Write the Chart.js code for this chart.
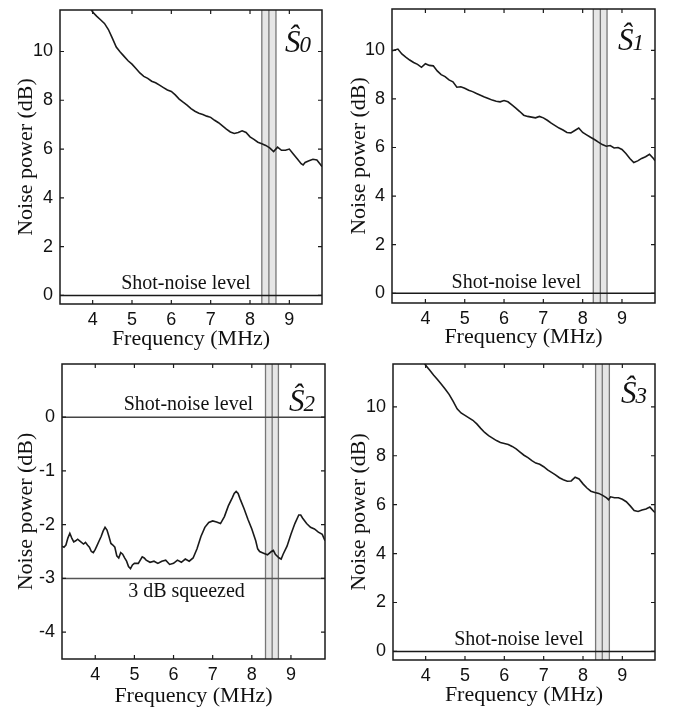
<!DOCTYPE html>
<html lang="en">
<head>
  <meta charset="UTF-8" />
  <title>Stokes operator noise spectra</title>
  <script src="https://cdn.jsdelivr.net/npm/chart.js@4.4.1/dist/chart.umd.min.js"></script>
  <style>
    body { margin: 0; background: #fff; }
    #wrap { position: relative; width: 673px; height: 707px; }
    canvas { position: absolute; }
  </style>
</head>
<body>
  <div id="wrap">
    <canvas id="s0" width="336" height="354" style="left:0;top:0"></canvas>
    <canvas id="s1" width="337" height="353" style="left:336px;top:0"></canvas>
    <canvas id="s2" width="336" height="351" style="left:0;top:356px"></canvas>
    <canvas id="s3" width="337" height="351" style="left:336px;top:356px"></canvas>
  </div>

  <script>
    // --- data ---
    const freqS0 = [3.95, 4.0, 4.1, 4.2, 4.3, 4.4, 4.5, 4.6, 4.7, 4.8, 4.9, 5.0, 5.1, 5.2, 5.3, 5.4, 5.5, 5.6, 5.7, 5.8,
      5.9, 6.0, 6.1, 6.2, 6.3, 6.4, 6.5, 6.6, 6.7, 6.8, 6.9, 7.0, 7.1, 7.2, 7.3, 7.4, 7.5, 7.6, 7.7, 7.8,
      7.9, 8.0, 8.1, 8.2, 8.3, 8.4, 8.5, 8.6, 8.7, 8.8, 8.9, 9.0, 9.1, 9.2, 9.3, 9.35, 9.4, 9.5, 9.6, 9.7, 9.8, 9.83];
    const powerS0 = [11.75, 11.62, 11.45, 11.3, 11.15, 10.9, 10.55, 10.18, 9.98, 9.8, 9.62, 9.48, 9.3, 9.12, 8.98, 8.9, 8.78, 8.72, 8.62, 8.52,
      8.42, 8.36, 8.22, 8.05, 7.92, 7.8, 7.66, 7.55, 7.47, 7.42, 7.35, 7.3, 7.18, 7.08, 6.95, 6.82, 6.7, 6.64, 6.68, 6.75,
      6.68, 6.5, 6.4, 6.28, 6.22, 6.15, 6.05, 5.9, 6.08, 5.95, 5.95, 6.0, 5.8, 5.6, 5.4, 5.35, 5.45, 5.52, 5.58, 5.55, 5.35, 5.28];

    const freqS1 = [3.15, 3.2, 3.3, 3.4, 3.5, 3.6, 3.7, 3.8, 3.9, 4.0,
      4.1, 4.2, 4.3, 4.4, 4.5, 4.6, 4.7, 4.8, 4.9, 5.0,
      5.1, 5.2, 5.3, 5.4, 5.5, 5.6, 5.7, 5.8, 5.9, 6.0,
      6.1, 6.2, 6.3, 6.4, 6.5, 6.6, 6.7, 6.8, 6.9, 7.0,
      7.1, 7.2, 7.3, 7.4, 7.5, 7.6, 7.7, 7.8, 7.9, 8.0,
      8.1, 8.2, 8.3, 8.4, 8.5, 8.6, 8.7, 8.8, 8.9, 9.0,
      9.1, 9.2, 9.3, 9.4, 9.5, 9.6, 9.7, 9.8, 9.84];
    const powerS1 = [9.98, 10.0, 10.05, 9.85, 9.72, 9.6, 9.5, 9.42, 9.3, 9.45,
      9.38, 9.36, 9.15, 9.0, 8.92, 8.78, 8.7, 8.48, 8.5, 8.44,
      8.36, 8.3, 8.22, 8.15, 8.08, 8.02, 7.95, 7.9, 7.88, 7.93,
      7.88, 7.75, 7.62, 7.48, 7.33, 7.28, 7.25, 7.22, 7.28, 7.22,
      7.12, 7.0, 6.9, 6.8, 6.72, 6.62, 6.6, 6.7, 6.8, 6.62,
      6.52, 6.42, 6.33, 6.22, 6.12, 6.05, 6.08, 5.98, 6.0, 5.92,
      5.75, 5.55, 5.38, 5.45, 5.55, 5.62, 5.72, 5.55, 5.45];

    const freqS2 = [3.15, 3.2, 3.25, 3.3, 3.35, 3.4, 3.45, 3.5, 3.55, 3.6,
      3.7, 3.75, 3.8, 3.85, 3.9, 3.95, 4.0, 4.05, 4.1, 4.15,
      4.2, 4.25, 4.3, 4.35, 4.4, 4.45, 4.5, 4.55, 4.6, 4.65,
      4.7, 4.75, 4.8, 4.85, 4.9, 4.95, 5.0, 5.1, 5.2, 5.25,
      5.3, 5.4, 5.5, 5.6, 5.7, 5.8, 5.9, 6.0, 6.1, 6.2,
      6.3, 6.4, 6.5, 6.6, 6.7, 6.8, 6.9, 7.0, 7.1, 7.2,
      7.3, 7.4, 7.5, 7.55, 7.6, 7.65, 7.7, 7.8, 7.9, 8.0,
      8.1, 8.15, 8.2, 8.3, 8.4, 8.5, 8.55, 8.6, 8.7, 8.75,
      8.8, 8.9, 9.0, 9.1, 9.2, 9.25, 9.3, 9.4, 9.5, 9.6,
      9.7, 9.8, 9.87];
    const powerS2 = [-2.40, -2.42, -2.38, -2.25, -2.16, -2.25, -2.32, -2.30, -2.27, -2.30,
      -2.36, -2.33, -2.38, -2.42, -2.50, -2.52, -2.46, -2.38, -2.30, -2.22,
      -2.12, -2.05, -2.10, -2.22, -2.35, -2.38, -2.42, -2.58, -2.62, -2.52,
      -2.55, -2.62, -2.68, -2.78, -2.82, -2.75, -2.72, -2.72, -2.60, -2.62,
      -2.66, -2.70, -2.68, -2.72, -2.68, -2.66, -2.74, -2.72, -2.66, -2.70,
      -2.64, -2.68, -2.62, -2.45, -2.22, -2.05, -1.96, -1.93, -1.95, -1.98,
      -1.85, -1.65, -1.50, -1.42, -1.38, -1.42, -1.52, -1.70, -1.90, -2.08,
      -2.30, -2.45, -2.50, -2.53, -2.56, -2.50, -2.48, -2.55, -2.62, -2.64,
      -2.55, -2.40, -2.18, -1.98, -1.82, -1.82, -1.88, -1.98, -2.05, -2.08,
      -2.14, -2.18, -2.30];

    const freqS3 = [3.97, 4.0, 4.1, 4.2, 4.3, 4.4, 4.5, 4.6, 4.7, 4.8,
      4.9, 5.0, 5.1, 5.2, 5.3, 5.4, 5.5, 5.6, 5.7, 5.8,
      5.9, 6.0, 6.1, 6.2, 6.3, 6.4, 6.5, 6.6, 6.7, 6.8,
      6.9, 7.0, 7.1, 7.2, 7.3, 7.4, 7.5, 7.6, 7.7, 7.8,
      7.9, 8.0, 8.1, 8.2, 8.3, 8.4, 8.5, 8.6, 8.65, 8.7,
      8.8, 8.9, 9.0, 9.1, 9.2, 9.3, 9.4, 9.5, 9.6, 9.7,
      9.8, 9.83];
    const powerS3 = [11.78, 11.7, 11.5, 11.3, 11.12, 10.92, 10.72, 10.5, 10.22, 9.92,
      9.75, 9.65, 9.55, 9.45, 9.3, 9.12, 8.95, 8.82, 8.72, 8.62,
      8.54, 8.5, 8.46, 8.38, 8.28, 8.15, 8.02, 7.92, 7.8, 7.7,
      7.65, 7.55, 7.42, 7.32, 7.22, 7.1, 7.02, 6.96, 6.97, 7.12,
      7.05, 6.85, 6.68, 6.55, 6.5, 6.46, 6.38, 6.28, 6.2, 6.32,
      6.28, 6.28, 6.22, 6.12, 5.95, 5.76, 5.72, 5.78, 5.82, 5.9,
      5.72, 5.68];

    // detection band edges + centre (MHz)
    const bandS0 = [8.30, 8.48, 8.66];
    const bandS1 = [8.27, 8.45, 8.62];
    const bandS2 = [8.35, 8.52, 8.68];
    const bandS3 = [8.32, 8.49, 8.67];

    const xTicks = [4, 5, 6, 7, 8, 9];
    const yTicksHigh = [0, 2, 4, 6, 8, 10];
    const yTicksS2 = [-4, -3, -2, -1, 0];

    const shotNoise = 0;
    const squeezed3dB = -3;

    const serif = '"Liberation Serif", "Times New Roman", serif';
    const sans = '"Liberation Sans", Arial, sans-serif';
    const ink = '#1a1a1a';

    // band, annotations, S-hat tag, boxed frame with inward ticks
    const decor = {
      id: 'decor',
      beforeDatasetsDraw(chart, args, o) {
        const { ctx, chartArea: a, scales: { x } } = chart;
        const p = o.band.map(v => x.getPixelForValue(v));
        ctx.save();
        ctx.fillStyle = '#e6e6e6';
        ctx.fillRect(p[0], a.top, p[p.length - 1] - p[0], a.bottom - a.top);
        ctx.strokeStyle = '#777';
        ctx.lineWidth = 1.3;
        p.forEach(px => {
          ctx.beginPath();
          ctx.moveTo(px, a.top);
          ctx.lineTo(px, a.bottom);
          ctx.stroke();
        });
        ctx.restore();
      },
      afterDraw(chart, args, o) {
        const { ctx, chartArea: a, scales: { x, y } } = chart;
        ctx.save();
        ctx.fillStyle = '#111';
        ctx.font = '20px ' + serif;
        ctx.textAlign = 'center';
        ctx.textBaseline = 'middle';
        o.notes.forEach(n => ctx.fillText(n.text, x.getPixelForValue(n.x), y.getPixelForValue(n.y)));

        ctx.textAlign = 'left';
        ctx.textBaseline = 'alphabetic';
        ctx.font = 'italic 31px ' + serif;
        const sx = a.right + o.tag.dx, sy = a.top + o.tag.dy;
        ctx.fillText('\u015C', sx, sy);
        const w = ctx.measureText('\u015C').width;
        ctx.font = 'italic 23px ' + serif;
        ctx.fillText(o.tag.sub, sx + w - 1, sy);

        ctx.strokeStyle = ink;
        ctx.lineWidth = 1.5;
        ctx.strokeRect(a.left, a.top, a.right - a.left, a.bottom - a.top);
        ctx.lineWidth = 1.2;
        ctx.beginPath();
        x.ticks.forEach(t => {
          const px = x.getPixelForValue(t.value);
          ctx.moveTo(px, a.bottom); ctx.lineTo(px, a.bottom - 4);
          ctx.moveTo(px, a.top); ctx.lineTo(px, a.top + 4);
        });
        y.ticks.forEach(t => {
          const py = y.getPixelForValue(t.value);
          ctx.moveTo(a.left, py); ctx.lineTo(a.left + 4, py);
          ctx.moveTo(a.right, py); ctx.lineTo(a.right - 4, py);
        });
        ctx.stroke();
        ctx.restore();
      }
    };

    function panel(id, freq, power, c) {
      const curve = freq.map((f, i) => ({ x: f, y: power[i] }));
      const refs = c.refs.map(r => ({
        data: [{ x: c.xMin, y: r.y }, { x: c.xMax, y: r.y }],
        borderColor: r.color, borderWidth: 1.5, pointRadius: 0
      }));
      new Chart(document.getElementById(id), {
        type: 'line',
        data: {
          datasets: [{ data: curve, borderColor: ink, borderWidth: 1.6, pointRadius: 0, tension: 0 }, ...refs]
        },
        options: {
          responsive: false,
          animation: false,
          devicePixelRatio: 1,
          layout: { padding: c.pad },
          plugins: {
            legend: { display: false },
            tooltip: { enabled: false },
            decor: { band: c.band, notes: c.notes, tag: c.tag }
          },
          scales: {
            x: {
              type: 'linear', min: c.xMin, max: c.xMax,
              afterBuildTicks: s => { s.ticks = xTicks.map(v => ({ value: v })); },
              afterFit: s => { s.height = c.xHeight; s.paddingLeft = 0; s.paddingRight = 0; },
              grid: { display: false, drawTicks: false },
              border: { display: false },
              ticks: { font: { family: sans, size: 18 }, color: '#111', padding: 5 },
              title: { display: true, text: 'Frequency (MHz)', color: '#111',
                font: { family: serif, size: 22, lineHeight: 1 }, padding: { top: 0, bottom: c.xTitlePad } }
            },
            y: {
              min: c.yMin, max: c.yMax,
              afterBuildTicks: s => { s.ticks = c.yTicks.map(v => ({ value: v })); },
              afterFit: s => { s.width = c.yWidth; s.paddingTop = 0; s.paddingBottom = 0; },
              grid: { display: false, drawTicks: false },
              border: { display: false },
              ticks: { font: { family: sans, size: 18 }, color: '#111', padding: 7 },
              title: { display: true, text: 'Noise power (dB)', color: '#111',
                font: { family: serif, size: 22, lineHeight: 1 }, padding: { top: c.yTitlePad, bottom: 0 } }
            }
          }
        },
        plugins: [decor]
      });
    }

    const blackZero = [{ y: shotNoise, color: ink }];

    panel('s0', freqS0, powerS0, {
      xMin: 3.17, xMax: 9.83, yMin: -0.35, yMax: 11.7, yTicks: yTicksHigh, band: bandS0,
      refs: blackZero, pad: { left: 0, top: 10, right: 14, bottom: 0 }, yWidth: 60, xHeight: 50,
      xTitlePad: 4, yTitlePad: 15,
      notes: [{ text: 'Shot-noise level', x: 6.37, y: 0.47 }],
      tag: { sub: '0', dx: -37, dy: 42 }
    });

    panel('s1', freqS1, powerS1, {
      xMin: 3.15, xMax: 9.84, yMin: -0.4, yMax: 11.7, yTicks: yTicksHigh, band: bandS1,
      refs: blackZero, pad: { left: 0, top: 9, right: 18, bottom: 0 }, yWidth: 56, xHeight: 50,
      xTitlePad: 5, yTitlePad: 12.7,
      notes: [{ text: 'Shot-noise level', x: 6.31, y: 0.42 }],
      tag: { sub: '1', dx: -37, dy: 41 }
    });

    panel('s2', freqS2, powerS2, {
      xMin: 3.15, xMax: 9.87, yMin: -4.5, yMax: 0.99, yTicks: yTicksS2, band: bandS2,
      refs: [{ y: shotNoise, color: '#444' }, { y: squeezed3dB, color: '#555' }],
      pad: { left: 0, top: 8, right: 11, bottom: 0 }, yWidth: 62, xHeight: 48,
      xTitlePad: 0, yTitlePad: 15.7,
      notes: [{ text: 'Shot-noise level', x: 6.38, y: 0.23 }, { text: '3 dB squeezed', x: 6.33, y: -3.24 }],
      tag: { sub: '2', dx: -36, dy: 47 }
    });

    panel('s3', freqS3, powerS3, {
      xMin: 3.17, xMax: 9.83, yMin: -0.35, yMax: 11.75, yTicks: yTicksHigh, band: bandS3,
      refs: blackZero, pad: { left: 0, top: 8, right: 18, bottom: 0 }, yWidth: 57, xHeight: 47,
      xTitlePad: 1, yTitlePad: 12.7,
      notes: [{ text: 'Shot-noise level', x: 6.37, y: 0.47 }],
      tag: { sub: '3', dx: -34, dy: 39 }
    });
  </script>
</body>
</html>
